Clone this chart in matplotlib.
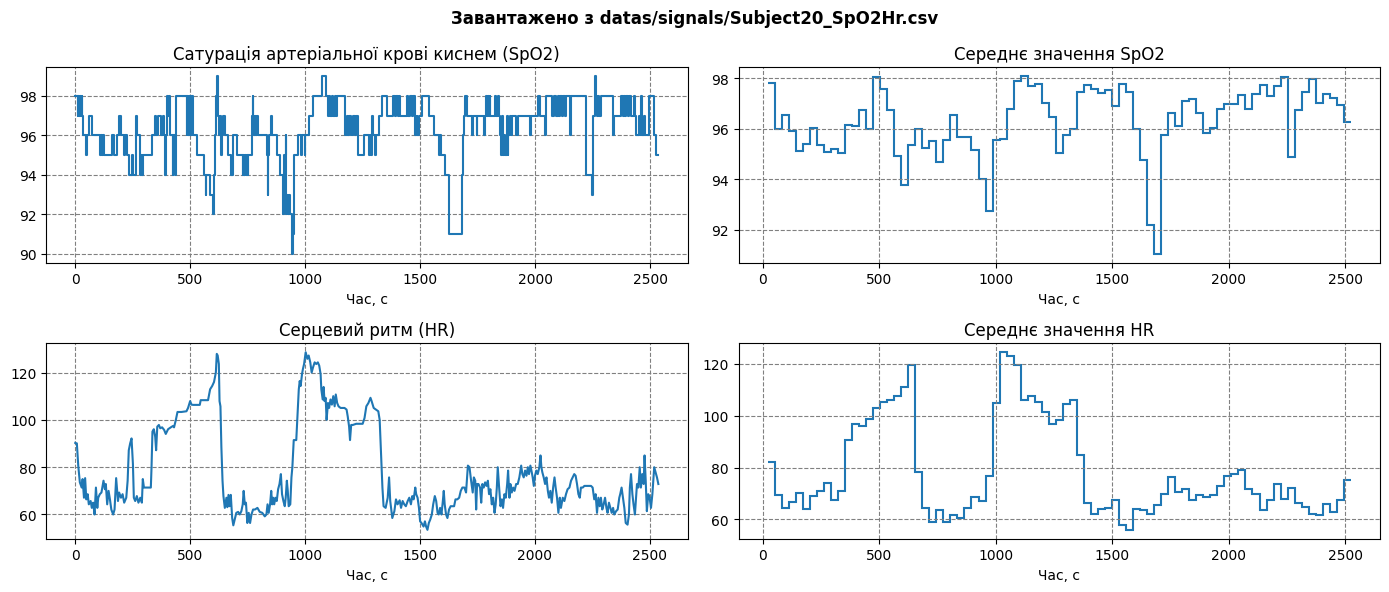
import numpy as np
import matplotlib
matplotlib.use('Agg')
import matplotlib.pyplot as plt

# ---- raw SpO2 (change points: time, value) ----
spo2_t = [0, 10, 13, 17, 20, 26, 29, 31, 33, 46, 51, 59, 75, 107, 113, 117, 122, 125, 161, 167,
          183, 191, 200, 212, 217, 226, 232, 246, 249, 264, 270, 281, 285, 290, 294, 332, 346, 351,
          362, 371, 380, 385, 391, 396, 400, 404, 409, 414, 423, 427, 433, 438,
          484, 487, 490, 493, 497, 500, 504, 506, 512, 531, 558, 567, 570, 587, 599, 605, 609, 614,
          616, 621, 625, 628, 634, 639, 642, 652, 664, 679, 684, 703, 728, 731, 736, 739, 743, 746,
          750, 753, 770, 772, 775, 779, 782, 786, 790, 794, 834, 837, 840, 843, 850, 854, 878, 889,
          904, 907, 916, 918, 922, 926, 930, 933, 942, 947, 950, 969, 984, 986, 998, 1000,
          1017, 1032, 1075, 1090, 1100, 1104, 1110, 1116, 1122, 1129, 1136, 1140, 1172, 1180, 1187,
          1191, 1201, 1206, 1216, 1220, 1230, 1256, 1276, 1280, 1287, 1290, 1295, 1305, 1308, 1319,
          1334, 1355, 1384, 1391, 1396, 1402, 1408, 1413, 1442, 1449, 1454, 1464, 1468, 1478, 1486,
          1488, 1497, 1507, 1540, 1561, 1584, 1587, 1591, 1608, 1627, 1681, 1686, 1691, 1697, 1702,
          1724, 1728, 1746, 1749, 1777, 1782, 1786, 1790, 1795, 1799, 1803, 1806, 1825, 1832, 1837,
          1841, 1847, 1851, 1855, 1860, 1864, 1870, 1876, 1880, 1884, 1890, 1894, 1899, 1919, 1925,
          1977, 1983, 2013, 2020, 2042, 2046, 2049, 2075, 2082, 2092, 2098, 2104, 2110, 2116, 2121,
          2130, 2136, 2150, 2157, 2223, 2247, 2251, 2262, 2266, 2270, 2275, 2280, 2286, 2338, 2345,
          2374, 2382, 2386, 2392, 2396, 2403, 2410, 2418, 2428, 2433, 2439, 2451, 2455, 2462, 2467,
          2475, 2480, 2494, 2519, 2526, 2536]
spo2_v = [98, 97, 98, 97, 98, 97, 98, 97, 96, 95, 96, 97, 96, 95, 96, 95, 96, 95, 96, 95,
          96, 97, 96, 95, 96, 95, 94, 95, 94, 97, 96, 94, 95, 94, 95, 96, 97, 96,
          97, 96, 97, 96, 94, 96, 98, 97, 98, 96, 94, 96, 94, 98,
          96, 98, 96, 98, 96, 98, 96, 98, 96, 95, 94, 93, 94, 93, 92, 94, 96, 98,
          99, 97, 96, 97, 95, 96, 97, 96, 95, 94, 96, 95, 94, 95, 94, 95, 94, 95,
          94, 95, 97, 98, 97, 96, 97, 96, 97, 96, 95, 93, 95, 96, 97, 96, 95, 94,
          92, 95, 96, 92, 93, 92, 93, 92, 90, 91, 95, 96, 95, 96, 95, 96,
          97, 98, 99, 98, 97, 98, 97, 98, 97, 98, 97, 98, 96, 97, 96,
          97, 96, 97, 96, 97, 95, 96, 95, 96, 95, 97, 96, 95, 96, 97,
          98, 97, 98, 97, 98, 97, 98, 97, 98, 97, 98, 97, 98, 96, 97,
          96, 97, 98, 97, 96, 95, 96, 95, 94, 91, 94, 96, 97, 98, 97,
          96, 97, 96, 97, 96, 97, 98, 97, 98, 97, 98, 97, 98, 97, 98,
          97, 96, 95, 97, 95, 96, 95, 97, 95, 96, 97, 96, 97, 96, 97,
          96, 97, 98, 97, 96, 97, 98, 97, 98, 97, 98, 97, 98, 97, 98,
          97, 98, 96, 98, 94, 93, 97, 99, 98, 97, 98, 97, 98, 96, 97,
          98, 97, 98, 97, 98, 97, 98, 97, 98, 97, 96, 97, 96, 98, 96,
          97, 96, 98, 96, 95, 95]

# ---- raw HR ----
hr_t = [0, 7, 13, 20, 28, 32, 38, 43, 48, 54, 59, 67, 72, 78, 84, 90, 96, 100, 107, 114,
        123, 129, 133, 139, 145, 151, 157, 165, 171, 178, 186, 191, 199, 206, 213, 222, 228, 233,
        239, 245, 251, 255, 261, 268, 275, 283, 290, 294, 299, 310, 329, 332, 336, 342, 348, 352,
        357, 364, 370, 378, 387, 394, 404, 416, 426, 430, 438, 445, 462, 484, 491, 500, 506, 513,
        542, 546, 578, 587, 596, 604, 612, 616, 620, 625, 628, 632, 636, 641, 645, 651, 658, 662,
        667, 672, 677, 683, 688, 694, 701, 709, 716, 723, 729, 733, 738, 743, 749, 755, 761, 767,
        774,
        782, 793, 803, 814, 825, 832, 837, 842, 848, 853, 857, 861, 866, 871, 877, 883, 889, 895,
        900, 906, 912, 916, 921, 925, 929, 936, 941, 945, 951, 962, 967, 973, 977, 981, 987, 991,
        996, 1003, 1010, 1016, 1023, 1029, 1035, 1042, 1049, 1056, 1062, 1068, 1071, 1077, 1081,
        1085, 1090, 1094, 1100, 1105, 1111, 1117, 1123, 1129, 1134, 1140, 1146, 1155, 1172, 1181,
        1186, 1192, 1196, 1201, 1208, 1223, 1251, 1259, 1267, 1276, 1285, 1290, 1299, 1309, 1319,
        1325, 1331, 1337, 1342, 1351, 1360, 1366, 1371, 1380, 1389, 1396, 1403, 1412, 1418, 1425,
        1432, 1439, 1447, 1454, 1461, 1467, 1473, 1480, 1484, 1490, 1496, 1501, 1507, 1516, 1522,
        1527, 1533, 1539, 1545, 1552, 1558, 1565, 1571, 1577, 1582, 1588, 1594, 1600, 1604, 1608,
        1614, 1620, 1627, 1634, 1649, 1655, 1663, 1671, 1678, 1685,
        1694, 1701, 1709, 1716, 1723, 1730, 1735, 1741, 1745, 1749, 1755, 1762, 1767, 1772, 1778,
        1784, 1790, 1796, 1801, 1807, 1813, 1819, 1825, 1830, 1835, 1839, 1845, 1851, 1857, 1862,
        1868, 1874, 1880, 1884, 1890, 1894, 1900, 1906, 1912, 1919, 1926, 1933, 1941, 1946, 1952,
        1958, 1964, 1970, 1975, 1981, 1987, 1991, 1996, 2001, 2007, 2013, 2020, 2025, 2029, 2033,
        2039, 2045, 2051, 2057, 2062, 2068, 2074, 2080, 2086, 2091, 2097, 2103, 2109, 2114, 2122,
        2129, 2136, 2143, 2151, 2158, 2165, 2172, 2178, 2184, 2190, 2196, 2201, 2209, 2216, 2230,
        2245, 2252, 2259, 2265, 2271, 2277, 2283, 2288, 2294, 2300, 2306, 2312, 2317, 2323, 2329,
        2335, 2341, 2346, 2354, 2361, 2368, 2372, 2378, 2384, 2390, 2396, 2404, 2410, 2414, 2419,
        2425, 2430, 2436, 2441, 2445, 2451, 2457, 2462, 2468, 2474, 2478, 2483, 2488, 2494, 2500,
        2506, 2512, 2516, 2520, 2526, 2532, 2538]
hr_v = [90.2, 90.0, 80.6, 73.5, 71.3, 74.9, 67.0, 75.3, 66.3, 68.5, 64.2, 65.6, 62.7, 64.9, 59.9,
        71.3, 62.7, 67.0, 68.5, 69.2, 74.2, 70.6, 72.8, 64.2, 69.9, 66.3, 62.0, 59.9, 62.0, 75.3,
        65.6, 69.2, 67.0, 68.5, 64.9, 67.0, 74.2, 87.1, 90.0, 92.1, 81.3, 67.0, 65.6, 67.7, 64.9,
        67.0, 64.9, 74.9, 71.3, 71.3, 71.3, 79.9, 95.0, 96.0, 92.8, 87.1, 97.1, 97.8, 96.4, 96.8,
        95.7, 94.0, 96.0, 96.8, 97.4, 96.8, 100.0, 103.3, 103.3, 103.6, 105.0, 107.9, 106.4, 106.3,
        106.3, 108.3, 108.3, 112.9, 114.3, 116.0, 120.0, 127.9, 127.2, 123.6, 107.9, 105.7, 88.5,
        74.2, 67.7, 62.7, 67.0, 63.0, 68.2, 63.4, 68.2, 58.4, 55.3, 57.7, 60.6, 61.0, 59.9, 61.3,
        64.2, 69.9, 64.2, 64.9, 56.3, 60.6, 56.3, 59.9, 62.0,
        62.0, 62.7, 61.0, 60.6, 59.1, 59.9, 64.2, 60.6, 64.2, 69.9, 64.2, 67.0, 64.2, 67.0, 65.6,
        70.6, 72.8, 77.0, 68.5, 65.6, 63.4, 67.0, 74.2, 69.9, 63.4, 64.2, 75.6, 79.9, 91.4, 91.4,
        101.4, 112.9, 116.4, 114.3, 119.3, 121.5, 123.6, 128.6, 125.8, 127.2, 124.3, 120.0, 122.2,
        124.3, 123.6, 124.3, 122.9, 119.3, 112.9, 108.6, 113.9, 107.9, 109.3, 100.0, 107.1, 105.0,
        108.6, 106.4, 110.0, 105.7, 110.7, 107.1, 105.7, 105.0, 105.0, 104.3, 101.4, 97.1, 91.4,
        97.8, 97.8, 98.3, 98.3, 100.7, 105.7, 107.1, 109.3, 107.9, 105.0, 104.3, 103.6, 100.0,
        85.6, 71.3, 63.4, 62.7, 67.0, 75.6, 65.6, 58.4, 61.3, 66.3, 64.2, 65.9, 62.7, 65.6, 64.2,
        63.4, 65.6, 67.0, 64.2, 67.7, 66.3, 71.3, 68.5, 67.0, 62.7, 57.0, 56.3, 54.8, 57.0, 54.8,
        53.4, 56.3, 57.7, 59.9, 64.2, 67.7, 65.6, 60.6, 59.9, 62.7, 59.9, 65.6, 69.9, 64.2, 59.9,
        58.4, 62.0, 63.4, 63.4, 66.3, 66.3, 67.0, 69.9, 71.3,
        71.3, 69.2, 80.6, 79.9, 74.2, 69.2, 75.6, 74.2, 62.0, 72.8, 72.8, 71.3, 64.9, 72.8, 71.3,
        73.5, 72.0, 74.2, 68.5, 70.6, 64.2, 67.0, 60.6, 64.2, 71.3, 79.9, 71.3, 63.4, 66.3, 62.7,
        68.5, 67.0, 72.8, 78.5, 67.0, 72.8, 69.2, 71.3, 69.9, 72.8, 72.8, 75.6, 80.6, 77.0, 75.6,
        78.5, 76.3, 79.9, 77.0, 80.6, 77.8, 75.6, 72.0, 76.3, 78.5, 77.0, 79.9, 84.9, 79.9, 77.8,
        75.6, 72.8, 75.6, 69.9, 67.0, 69.9, 64.9, 71.3, 75.6, 71.3, 67.0, 60.6, 67.0, 62.7, 67.0,
        65.6, 68.5, 70.6, 71.3, 74.2, 75.6, 77.0, 76.3, 72.8, 68.5, 67.0, 71.3, 71.3, 72.0, 72.0,
        72.0, 71.3, 66.3, 68.5, 60.6, 67.0, 63.4, 67.0, 62.0, 64.2, 67.0, 62.7, 60.6, 64.9, 62.7,
        60.6, 62.7, 59.9, 61.3, 62.0, 67.0, 68.5, 71.3, 67.0, 62.7, 56.3, 55.6, 59.9, 71.3, 77.0,
        68.5, 64.2, 59.9, 67.0, 72.8, 71.3, 79.9, 71.3, 77.0, 72.8, 84.9, 74.2, 61.3, 68.5, 67.0,
        62.7, 68.5, 74.2, 79.9, 77.8, 75.6, 72.8]

# ---- window means (83 windows) ----
window_start, window_end, n_windows = 21, 2523, 83
spo2_mean = [97.83, 95.99, 96.54, 95.93, 95.11, 95.40, 96.03, 95.36, 95.07, 95.18,
             95.03, 96.15, 96.12, 96.75, 96.00, 98.03, 97.59, 96.75, 94.93, 93.76,
             95.35, 95.99, 95.23, 95.52, 94.68, 95.56, 96.53, 95.66, 95.66, 95.17,
             94.03, 92.75, 95.55, 95.59, 96.79, 97.91, 98.08, 97.68, 97.79, 97.02,
             96.45, 95.05, 95.76, 96.00, 97.46, 97.72, 97.56, 97.43, 97.52, 96.90,
             97.79, 97.46, 96.00, 94.78, 92.19, 91.05, 95.76, 96.64, 96.09, 97.09,
             97.18, 96.64, 95.83, 96.03, 96.77, 96.97, 96.99, 97.34, 96.77, 97.38,
             97.72, 97.31, 97.70, 98.04, 94.90, 96.73, 97.44, 97.96, 97.03, 97.36,
             97.23, 96.95, 96.26]
hr_mean = [82.2, 69.5, 64.5, 66.8, 70.3, 64.0, 68.9, 71.1, 74.1, 67.4,
           71.0, 90.6, 96.9, 95.9, 98.6, 103.1, 105.4, 106.1, 107.7, 111.1,
           119.4, 78.3, 64.4, 59.0, 63.5, 59.1, 61.9, 60.4, 64.4, 68.8,
           67.1, 76.9, 104.8, 124.5, 123.0, 119.4, 105.9, 107.7, 105.3, 101.5,
           97.0, 98.3, 104.4, 106.1, 84.8, 66.3, 62.2, 64.0, 64.4, 67.7,
           57.7, 56.0, 63.9, 63.7, 62.2, 65.5, 69.7, 76.4, 70.7, 71.6,
           67.5, 69.3, 68.8, 69.5, 73.0, 76.6, 77.7, 79.0, 71.9, 69.8,
           63.7, 67.7, 73.5, 67.9, 72.0, 66.2, 64.9, 62.1, 61.8, 66.1,
           62.8, 67.5, 75.1]

suptitle = 'Завантажено з datas/signals/Subject20_SpO2Hr.csv'
titles = ['Сатурація артеріальної крові киснем (SpO2)', 'Середнє значення SpO2',
          'Серцевий ритм (HR)', 'Середнє значення HR']
xlabel = 'Час, с'

edges = np.linspace(window_start, window_end, n_windows + 1)

fig, axes = plt.subplots(2, 2, figsize=(14, 6), dpi=100)
fig.suptitle(suptitle, fontweight='bold', fontsize=12)

ax = axes[0, 0]
ax.step(spo2_t, spo2_v, where='post', color='C0', linewidth=1.5)
ax = axes[0, 1]
ax.stairs(spo2_mean, edges, baseline=None, color='C0', linewidth=1.5)
ax = axes[1, 0]
ax.plot(hr_t, hr_v, color='C0', linewidth=1.5)
ax = axes[1, 1]
ax.stairs(hr_mean, edges, baseline=None, color='C0', linewidth=1.5)

for ax, title in zip(axes.flat, titles):
    ax.set_title(title)
    ax.set_xlabel(xlabel)
    ax.grid(True, linestyle='--', color='gray')
    ax.margins(x=0.05, y=0.05)
    ax.autoscale_view()

fig.tight_layout()
fig.savefig('out.png', dpi=100, bbox_inches='tight')
